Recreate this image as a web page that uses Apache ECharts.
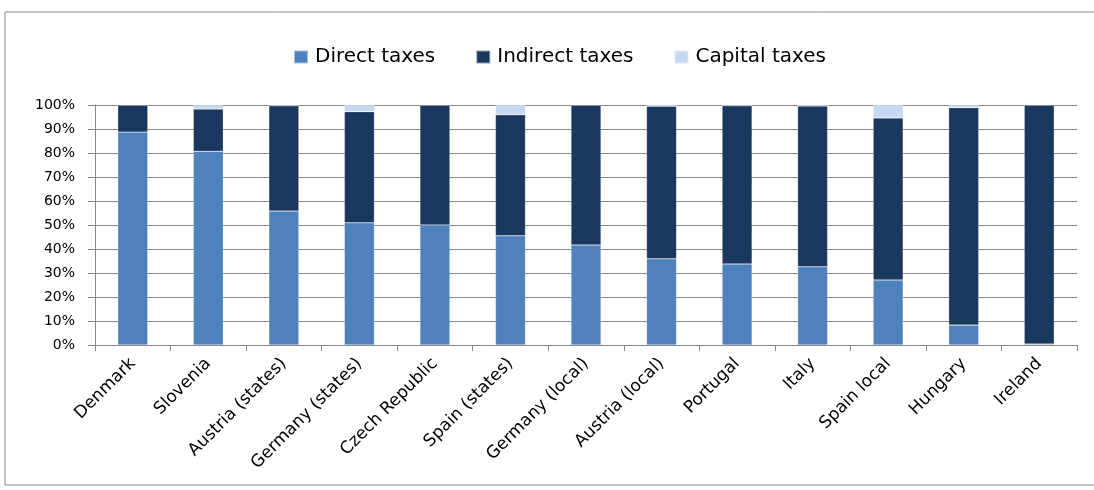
<!DOCTYPE html>
<html><head><meta charset="utf-8">
<script src="https://cdn.jsdelivr.net/npm/echarts@6/dist/echarts.min.js"></script>
<style>html,body{margin:0;padding:0;background:#fff}#c{width:1094px;height:490px}</style>
</head><body><div id="c"></div>
<script>
const categories = ["Denmark","Slovenia","Austria (states)","Germany (states)","Czech Republic","Spain (states)","Germany (local)","Austria (local)","Portugal","Italy","Spain local","Hungary","Ireland"];
const directTaxes   = [88.7, 80.7, 55.8, 50.9, 50.0, 45.5, 41.7, 35.9, 33.8, 32.6, 27.1, 8.3, 0.4];
const indirectTaxes = [11.3, 17.6, 43.9, 46.3, 50.0, 50.4, 58.3, 63.6, 65.9, 67.0, 67.5, 90.6, 99.6];
const capitalTaxes  = [0.0, 1.7, 0.3, 2.8, 0.0, 4.1, 0.0, 0.5, 0.3, 0.4, 5.4, 1.1, 0.0];
const yTicks = [0,10,20,30,40,50,60,70,80,90,100];

const chart = echarts.init(document.getElementById('c'), null, {renderer:'canvas'});
const gray = '#868686';
const mk = (name, data, color) => ({
  name, type:'bar', stack:'total', data, barWidth:30,
  itemStyle:{color, borderColor:'rgba(255,255,255,0.5)', borderWidth:0.5},
  emphasis:{disabled:true}
});
chart.setOption({
  animation:false,
  graphic:[{type:'rect', shape:{x:5,y:12,width:1100,height:473}, style:{fill:'none', stroke:gray, lineWidth:1}, silent:true, z:-1}],
  legend:{
    left:288, top:42, itemWidth:14, itemHeight:13, itemGap:40,
    icon:'rect',
    textStyle:{fontFamily:'DejaVu Sans', fontSize:20, color:'#000', padding:[0,0,0,2]},
    data:['Direct taxes','Indirect taxes','Capital taxes']
  },
  grid:{left:95, right:17, top:105, bottom:145, containLabel:false},
  xAxis:{
    type:'category', data:categories, boundaryGap:true,
    axisLine:{lineStyle:{color:gray,width:1}},
    axisTick:{show:true, alignWithLabel:false, length:6, lineStyle:{color:gray}},
    axisLabel:{rotate:45, interval:0, fontFamily:'DejaVu Sans', fontSize:17, color:'#000', margin:16}
  },
  yAxis:{
    type:'value', min:0, max:100, interval:10,
    axisLine:{show:true, lineStyle:{color:gray,width:1}},
    axisTick:{show:true, length:7, lineStyle:{color:gray}},
    splitLine:{lineStyle:{color:gray,width:1}},
    axisLabel:{formatter: v => yTicks.includes(v) ? v + '%' : '', fontFamily:'DejaVu Sans', fontSize:14, color:'#000', margin:20}
  },
  series:[
    mk('Direct taxes', directTaxes, '#4F81BD'),
    mk('Indirect taxes', indirectTaxes, '#1A375E'),
    mk('Capital taxes', capitalTaxes, '#C6D9F1')
  ]
});
</script></body></html>
